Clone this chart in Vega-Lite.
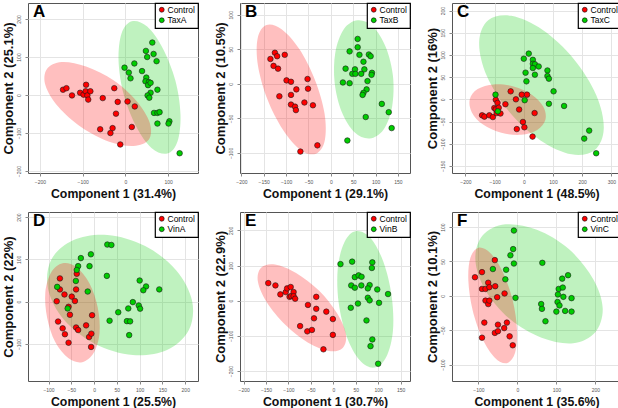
{
"$schema": "https://vega.github.io/schema/vega-lite/v6.json",
"padding": {"left": 1, "top": 1, "right": 0, "bottom": 0},
"background": "white",
"columns": 3,
"bounds": "flush",
"spacing": {"row": 39, "column": 42},
"resolve": {"scale": {"color": "independent", "x": "independent", "y": "independent"}, "legend": {"color": "independent"}},
"datasets": {
"A_pts": [
{"group":"Control","x":-146,"y":14},{"group":"Control","x":-138,"y":18},{"group":"Control","x":-125,"y":-1},{"group":"Control","x":-106,"y":6},{"group":"Control","x":-98,"y":1},{"group":"Control","x":-92,"y":27},{"group":"Control","x":-93,"y":10},{"group":"Control","x":-89,"y":-1},{"group":"Control","x":-87,"y":-12},{"group":"Control","x":-82,"y":10},{"group":"Control","x":-53,"y":-8},{"group":"Control","x":-26,"y":18},{"group":"Control","x":-18,"y":-18},{"group":"Control","x":-22,"y":-49},{"group":"Control","x":5,"y":-17},{"group":"Control","x":22,"y":-30},{"group":"Control","x":-59,"y":-90},{"group":"Control","x":-30,"y":-87},{"group":"Control","x":-35,"y":-100},{"group":"Control","x":15,"y":-84},{"group":"Control","x":-12,"y":-130},
{"group":"TaxA","x":-2,"y":72},{"group":"TaxA","x":8,"y":59},{"group":"TaxA","x":12,"y":44},{"group":"TaxA","x":21,"y":83},{"group":"TaxA","x":39,"y":63},{"group":"TaxA","x":48,"y":116},{"group":"TaxA","x":51,"y":100},{"group":"TaxA","x":63,"y":138},{"group":"TaxA","x":66,"y":108},{"group":"TaxA","x":73,"y":89},{"group":"TaxA","x":49,"y":46},{"group":"TaxA","x":47,"y":36},{"group":"TaxA","x":55,"y":34},{"group":"TaxA","x":53,"y":26},{"group":"TaxA","x":59,"y":32},{"group":"TaxA","x":75,"y":14},{"group":"TaxA","x":59,"y":6},{"group":"TaxA","x":52,"y":-1},{"group":"TaxA","x":56,"y":-7},{"group":"TaxA","x":67,"y":-47},{"group":"TaxA","x":75,"y":-47},{"group":"TaxA","x":80,"y":-45},{"group":"TaxA","x":75,"y":-75},{"group":"TaxA","x":103,"y":-69},{"group":"TaxA","x":101,"y":-75},{"group":"TaxA","x":127,"y":-153}
],
"A_ell": [
{"group":"Control","t":0,"x":55,"y":-117},{"group":"Control","t":1,"x":19,"y":-134},{"group":"Control","t":2,"x":-38,"y":-123},{"group":"Control","t":3,"x":-103,"y":-85},{"group":"Control","t":4,"x":-157,"y":-31},{"group":"Control","t":5,"x":-187,"y":25},{"group":"Control","t":6,"x":-184,"y":68},{"group":"Control","t":7,"x":-149,"y":87},{"group":"Control","t":8,"x":-92,"y":75},{"group":"Control","t":9,"x":-27,"y":38},{"group":"Control","t":10,"x":27,"y":-17},{"group":"Control","t":11,"x":57,"y":-73},
{"group":"TaxA","t":0,"x":98,"y":-154},{"group":"TaxA","t":1,"x":61,"y":-139},{"group":"TaxA","t":2,"x":25,"y":-82},{"group":"TaxA","t":3,"x":-4,"y":2},{"group":"TaxA","t":4,"x":-16,"y":91},{"group":"TaxA","t":5,"x":-9,"y":162},{"group":"TaxA","t":6,"x":15,"y":194},{"group":"TaxA","t":7,"x":51,"y":180},{"group":"TaxA","t":8,"x":88,"y":122},{"group":"TaxA","t":9,"x":117,"y":38},{"group":"TaxA","t":10,"x":129,"y":-51},{"group":"TaxA","t":11,"x":122,"y":-122}
],
"B_pts": [
{"group":"Control","x":-135,"y":36},{"group":"Control","x":-125,"y":45},{"group":"Control","x":-120,"y":40},{"group":"Control","x":-128,"y":26},{"group":"Control","x":-118,"y":22},{"group":"Control","x":-103,"y":42},{"group":"Control","x":-99,"y":5},{"group":"Control","x":-89,"y":3},{"group":"Control","x":-89,"y":-16},{"group":"Control","x":-77,"y":-8},{"group":"Control","x":-52,"y":7},{"group":"Control","x":-51,"y":-7},{"group":"Control","x":-115,"y":-18},{"group":"Control","x":-89,"y":-30},{"group":"Control","x":-80,"y":-33},{"group":"Control","x":-78,"y":-38},{"group":"Control","x":-59,"y":-27},{"group":"Control","x":-40,"y":-31},{"group":"Control","x":-30,"y":-89},{"group":"Control","x":-68,"y":-98},
{"group":"TaxB","x":60,"y":65},{"group":"TaxB","x":60,"y":53},{"group":"TaxB","x":42,"y":47},{"group":"TaxB","x":64,"y":42},{"group":"TaxB","x":85,"y":42.5},{"group":"TaxB","x":89,"y":40},{"group":"TaxB","x":73,"y":32},{"group":"TaxB","x":33,"y":22},{"group":"TaxB","x":54,"y":21},{"group":"TaxB","x":48,"y":14.5},{"group":"TaxB","x":55,"y":14.5},{"group":"TaxB","x":68,"y":14.5},{"group":"TaxB","x":75,"y":21},{"group":"TaxB","x":92,"y":16},{"group":"TaxB","x":91,"y":13},{"group":"TaxB","x":82,"y":4},{"group":"TaxB","x":27,"y":2},{"group":"TaxB","x":42,"y":1},{"group":"TaxB","x":80,"y":-8},{"group":"TaxB","x":73,"y":-13},{"group":"TaxB","x":71,"y":-16},{"group":"TaxB","x":114,"y":-29},{"group":"TaxB","x":129.5,"y":-41},{"group":"TaxB","x":78,"y":-48},{"group":"TaxB","x":136,"y":-64},{"group":"TaxB","x":37,"y":-82}
],
"B_ell": [
{"group":"Control","t":0,"x":-33,"y":-101},{"group":"Control","t":1,"x":-67,"y":-96},{"group":"Control","t":2,"x":-107,"y":-66.5},{"group":"Control","t":3,"x":-142,"y":-22},{"group":"Control","t":4,"x":-163,"y":27},{"group":"Control","t":5,"x":-163.5,"y":66},{"group":"Control","t":6,"x":-144,"y":85},{"group":"Control","t":7,"x":-110,"y":79},{"group":"Control","t":8,"x":-70,"y":50},{"group":"Control","t":9,"x":-35,"y":5},{"group":"Control","t":10,"x":-14,"y":-43},{"group":"Control","t":11,"x":-13.5,"y":-82},
{"group":"TaxB","t":0,"x":87,"y":-79},{"group":"TaxB","t":1,"x":53,"y":-70},{"group":"TaxB","t":2,"x":24,"y":-40},{"group":"TaxB","t":3,"x":8.5,"y":2},{"group":"TaxB","t":4,"x":10,"y":45},{"group":"TaxB","t":5,"x":29,"y":79},{"group":"TaxB","t":6,"x":60,"y":92},{"group":"TaxB","t":7,"x":94,"y":83},{"group":"TaxB","t":8,"x":123,"y":53},{"group":"TaxB","t":9,"x":139,"y":11},{"group":"TaxB","t":10,"x":137,"y":-33},{"group":"TaxB","t":11,"x":118,"y":-66}
],
"C_pts": [
{"group":"Control","x":-143,"y":-36},{"group":"Control","x":-135,"y":-39},{"group":"Control","x":-118,"y":-36},{"group":"Control","x":-106,"y":-40},{"group":"Control","x":-101,"y":-19.5},{"group":"Control","x":-96,"y":-22.5},{"group":"Control","x":-93,"y":-31},{"group":"Control","x":-96,"y":-1},{"group":"Control","x":-90,"y":-8},{"group":"Control","x":-86,"y":-19},{"group":"Control","x":-80,"y":-32},{"group":"Control","x":-63,"y":-11},{"group":"Control","x":-45,"y":18},{"group":"Control","x":-27,"y":0},{"group":"Control","x":-16,"y":-23},{"group":"Control","x":-7,"y":10.5},{"group":"Control","x":11,"y":10.5},{"group":"Control","x":-3,"y":-51},{"group":"Control","x":2,"y":-63},{"group":"Control","x":-24,"y":-67},{"group":"Control","x":37,"y":-31},{"group":"Control","x":30,"y":-84},
{"group":"TaxC","x":17,"y":103},{"group":"TaxC","x":0,"y":91.5},{"group":"TaxC","x":31,"y":89},{"group":"TaxC","x":31,"y":80},{"group":"TaxC","x":38,"y":79},{"group":"TaxC","x":51,"y":74},{"group":"TaxC","x":31,"y":70.5},{"group":"TaxC","x":6,"y":60},{"group":"TaxC","x":38,"y":55.5},{"group":"TaxC","x":81,"y":65},{"group":"TaxC","x":81,"y":52.5},{"group":"TaxC","x":86,"y":46.5},{"group":"TaxC","x":9,"y":40.5},{"group":"TaxC","x":102,"y":18},{"group":"TaxC","x":86,"y":-10},{"group":"TaxC","x":138,"y":-15},{"group":"TaxC","x":3,"y":-2},{"group":"TaxC","x":-97,"y":10.5},{"group":"TaxC","x":-89,"y":-27},{"group":"TaxC","x":207,"y":-88.5},{"group":"TaxC","x":224,"y":-70.5},{"group":"TaxC","x":248,"y":-121.5}
],
"C_ell": [
{"group":"Control","t":0,"x":74,"y":-46},{"group":"Control","t":1,"x":46,"y":-69},{"group":"Control","t":2,"x":-9,"y":-80},{"group":"Control","t":3,"x":-77,"y":-75.5},{"group":"Control","t":4,"x":-139.5,"y":-57},{"group":"Control","t":5,"x":-178,"y":-29.5},{"group":"Control","t":6,"x":-185,"y":0},{"group":"Control","t":7,"x":-158,"y":23},{"group":"Control","t":8,"x":-103,"y":33.5},{"group":"Control","t":9,"x":-35,"y":29},{"group":"Control","t":10,"x":27.5,"y":10.5},{"group":"Control","t":11,"x":67,"y":-17},
{"group":"TaxC","t":0,"x":243,"y":-114},{"group":"TaxC","t":1,"x":164,"y":-124},{"group":"TaxC","t":2,"x":56,"y":-92},{"group":"TaxC","t":3,"x":-50,"y":-28},{"group":"TaxC","t":4,"x":-127,"y":53},{"group":"TaxC","t":5,"x":-153,"y":128},{"group":"TaxC","t":6,"x":-122,"y":178},{"group":"TaxC","t":7,"x":-42.5,"y":188},{"group":"TaxC","t":8,"x":65,"y":156},{"group":"TaxC","t":9,"x":171,"y":91},{"group":"TaxC","t":10,"x":248,"y":10},{"group":"TaxC","t":11,"x":274,"y":-65}
],
"D_pts": [
{"group":"Control","x":-75,"y":55},{"group":"Control","x":-75,"y":29},{"group":"Control","x":-65,"y":17},{"group":"Control","x":-82,"y":1},{"group":"Control","x":-49,"y":12},{"group":"Control","x":-39.5,"y":29},{"group":"Control","x":-38,"y":66},{"group":"Control","x":-42,"y":1.6},{"group":"Control","x":-56,"y":-12},{"group":"Control","x":-53,"y":-31},{"group":"Control","x":-79,"y":-47},{"group":"Control","x":-69,"y":-63},{"group":"Control","x":-64,"y":-77},{"group":"Control","x":-56,"y":-97},{"group":"Control","x":-39.5,"y":-61},{"group":"Control","x":-35,"y":-67},{"group":"Control","x":-17.5,"y":-56},{"group":"Control","x":-4.4,"y":-32},{"group":"Control","x":-11,"y":-83.5},{"group":"Control","x":-6,"y":-75.6},{"group":"Control","x":-6.6,"y":-107},
{"group":"VinA","x":29,"y":135},{"group":"VinA","x":38,"y":134},{"group":"VinA","x":-29,"y":103},{"group":"VinA","x":-7,"y":112},{"group":"VinA","x":-35,"y":84},{"group":"VinA","x":-10,"y":84},{"group":"VinA","x":-38,"y":75},{"group":"VinA","x":28,"y":61},{"group":"VinA","x":-40,"y":49},{"group":"VinA","x":-81,"y":35},{"group":"VinA","x":-14,"y":24},{"group":"VinA","x":-58,"y":-16},{"group":"VinA","x":100,"y":50},{"group":"VinA","x":114,"y":36},{"group":"VinA","x":108,"y":27},{"group":"VinA","x":143,"y":29},{"group":"VinA","x":85,"y":-1},{"group":"VinA","x":98,"y":-9},{"group":"VinA","x":101,"y":-16.5},{"group":"VinA","x":53,"y":-25},{"group":"VinA","x":75,"y":-16},{"group":"VinA","x":34,"y":-45},{"group":"VinA","x":72,"y":-46},{"group":"VinA","x":79,"y":-46.5},{"group":"VinA","x":77,"y":-79}
],
"D_ell": [
{"group":"Control","t":0,"x":-26,"y":-143},{"group":"Control","t":1,"x":-56,"y":-134},{"group":"Control","t":2,"x":-85.5,"y":-95},{"group":"Control","t":3,"x":-103,"y":-38},{"group":"Control","t":4,"x":-107,"y":22},{"group":"Control","t":5,"x":-94,"y":69.5},{"group":"Control","t":6,"x":-69,"y":91},{"group":"Control","t":7,"x":-39,"y":82},{"group":"Control","t":8,"x":-10,"y":43},{"group":"Control","t":9,"x":8,"y":-14},{"group":"Control","t":10,"x":12,"y":-74},{"group":"Control","t":11,"x":-1,"y":-121.5},
{"group":"VinA","t":0,"x":208,"y":-67},{"group":"VinA","t":1,"x":160,"y":-114},{"group":"VinA","t":2,"x":85,"y":-126},{"group":"VinA","t":3,"x":2,"y":-100},{"group":"VinA","t":4,"x":-66,"y":-43},{"group":"VinA","t":5,"x":-101,"y":30},{"group":"VinA","t":6,"x":-94,"y":99},{"group":"VinA","t":7,"x":-46,"y":145},{"group":"VinA","t":8,"x":29,"y":157.5},{"group":"VinA","t":9,"x":112,"y":131.5},{"group":"VinA","t":10,"x":180,"y":74.5},{"group":"VinA","t":11,"x":215,"y":2}
],
"E_pts": [
{"group":"Control","x":-145,"y":50},{"group":"Control","x":-129,"y":43.5},{"group":"Control","x":-118,"y":18},{"group":"Control","x":-106,"y":24.6},{"group":"Control","x":-103,"y":35},{"group":"Control","x":-95,"y":39},{"group":"Control","x":-97.5,"y":11},{"group":"Control","x":-94,"y":13},{"group":"Control","x":-88.5,"y":24.6},{"group":"Control","x":-88.5,"y":13},{"group":"Control","x":-85,"y":5.7},{"group":"Control","x":-38,"y":11},{"group":"Control","x":-56.5,"y":-12},{"group":"Control","x":-38,"y":-23},{"group":"Control","x":-15.6,"y":-31},{"group":"Control","x":-1,"y":-52},{"group":"Control","x":-43,"y":-50},{"group":"Control","x":-74,"y":-72},{"group":"Control","x":-58,"y":-87},{"group":"Control","x":-47.6,"y":-83},{"group":"Control","x":-1,"y":-97},{"group":"Control","x":-22,"y":-138},
{"group":"VinB","x":42,"y":111},{"group":"VinB","x":16,"y":104},{"group":"VinB","x":87,"y":109},{"group":"VinB","x":86,"y":93},{"group":"VinB","x":48,"y":67},{"group":"VinB","x":56.5,"y":72},{"group":"VinB","x":63,"y":68},{"group":"VinB","x":40,"y":43.5},{"group":"VinB","x":48,"y":37},{"group":"VinB","x":62.5,"y":43.5},{"group":"VinB","x":81,"y":44.4},{"group":"VinB","x":77,"y":35},{"group":"VinB","x":98,"y":32},{"group":"VinB","x":122,"y":19},{"group":"VinB","x":77,"y":8.5},{"group":"VinB","x":81,"y":1},{"group":"VinB","x":102,"y":-6},{"group":"VinB","x":55,"y":-8},{"group":"VinB","x":39,"y":-20},{"group":"VinB","x":74,"y":-56},{"group":"VinB","x":87,"y":-110},{"group":"VinB","x":83,"y":-129},{"group":"VinB","x":100,"y":-179}
],
"E_ell": [
{"group":"Control","t":0,"x":21,"y":-134},{"group":"Control","t":1,"x":-10,"y":-143},{"group":"Control","t":2,"x":-57,"y":-119},{"group":"Control","t":3,"x":-107,"y":-68.5},{"group":"Control","t":4,"x":-148,"y":-5},{"group":"Control","t":5,"x":-168,"y":54},{"group":"Control","t":6,"x":-161,"y":94},{"group":"Control","t":7,"x":-130,"y":103},{"group":"Control","t":8,"x":-83,"y":79},{"group":"Control","t":9,"x":-32,"y":29},{"group":"Control","t":10,"x":8,"y":-35},{"group":"Control","t":11,"x":28,"y":-94},
{"group":"VinB","t":0,"x":91,"y":-190},{"group":"VinB","t":1,"x":59,"y":-169},{"group":"VinB","t":2,"x":30,"y":-102},{"group":"VinB","t":3,"x":12,"y":-6},{"group":"VinB","t":4,"x":10,"y":92},{"group":"VinB","t":5,"x":25,"y":167},{"group":"VinB","t":6,"x":51,"y":198},{"group":"VinB","t":7,"x":84,"y":177},{"group":"VinB","t":8,"x":112,"y":109},{"group":"VinB","t":9,"x":130,"y":14},{"group":"VinB","t":10,"x":133,"y":-85},{"group":"VinB","t":11,"x":118,"y":-160}
],
"F_pts": [
{"group":"Control","x":-109,"y":27},{"group":"Control","x":-91,"y":34.5},{"group":"Control","x":-58,"y":52},{"group":"Control","x":-75,"y":19},{"group":"Control","x":-91,"y":10},{"group":"Control","x":-82,"y":10},{"group":"Control","x":-72,"y":12.6},{"group":"Control","x":-57,"y":14},{"group":"Control","x":-33,"y":3.4},{"group":"Control","x":-52,"y":-2},{"group":"Control","x":-82,"y":-7},{"group":"Control","x":-75,"y":-12},{"group":"Control","x":-72,"y":-7},{"group":"Control","x":-85,"y":-39},{"group":"Control","x":-50,"y":-42},{"group":"Control","x":-27,"y":-39},{"group":"Control","x":-34,"y":-47},{"group":"Control","x":-58,"y":-54},{"group":"Control","x":-50,"y":-51.5},{"group":"Control","x":-20,"y":-59},{"group":"Control","x":-91,"y":-61},{"group":"Control","x":-12,"y":-72},
{"group":"VinC","x":-9,"y":95},{"group":"VinC","x":-11,"y":68},{"group":"VinC","x":-18,"y":59},{"group":"VinC","x":-9,"y":47},{"group":"VinC","x":-63,"y":39},{"group":"VinC","x":-29,"y":38},{"group":"VinC","x":-31,"y":24},{"group":"VinC","x":-5,"y":-3},{"group":"VinC","x":64,"y":48},{"group":"VinC","x":106,"y":10},{"group":"VinC","x":115,"y":25},{"group":"VinC","x":130,"y":30},{"group":"VinC","x":116.5,"y":12},{"group":"VinC","x":104,"y":2},{"group":"VinC","x":118,"y":-1.5},{"group":"VinC","x":139,"y":-3.4},{"group":"VinC","x":103,"y":-9},{"group":"VinC","x":108,"y":-14},{"group":"VinC","x":61,"y":-12},{"group":"VinC","x":63,"y":-19},{"group":"VinC","x":100,"y":-23},{"group":"VinC","x":122.5,"y":-22},{"group":"VinC","x":139,"y":-23},{"group":"VinC","x":72,"y":-37}
],
"F_ell": [
{"group":"Control","t":0,"x":-27,"y":-98},{"group":"Control","t":1,"x":-58,"y":-90},{"group":"Control","t":2,"x":-90,"y":-62},{"group":"Control","t":3,"x":-115,"y":-21},{"group":"Control","t":4,"x":-126,"y":22},{"group":"Control","t":5,"x":-121,"y":55},{"group":"Control","t":6,"x":-100,"y":70},{"group":"Control","t":7,"x":-69,"y":62},{"group":"Control","t":8,"x":-37,"y":34},{"group":"Control","t":9,"x":-12,"y":-7},{"group":"Control","t":10,"x":-1,"y":-50},{"group":"Control","t":11,"x":-6,"y":-83},
{"group":"VinC","t":0,"x":200,"y":-53},{"group":"VinC","t":1,"x":143,"y":-69},{"group":"VinC","t":2,"x":62,"y":-61},{"group":"VinC","t":3,"x":-21,"y":-33},{"group":"VinC","t":4,"x":-83,"y":9},{"group":"VinC","t":5,"x":-108,"y":53},{"group":"VinC","t":6,"x":-89,"y":88},{"group":"VinC","t":7,"x":-31,"y":104},{"group":"VinC","t":8,"x":50,"y":96},{"group":"VinC","t":9,"x":132,"y":68},{"group":"VinC","t":10,"x":194,"y":25},{"group":"VinC","t":11,"x":219,"y":-18}
]
},
"concat": [
{"width": 170, "height": 170, "title": {"text": "A"},
 "encoding": {
  "x": {"field": "x", "type": "quantitative", "scale": {"domain": [-228, 170], "nice": false, "zero": false}, "axis": {"values": [-200,-100,0,100], "title": "Component 1 (31.4%)"}},
  "y": {"field": "y", "type": "quantitative", "scale": {"domain": [-205, 242], "nice": false, "zero": false}, "axis": {"values": [-200,-100,0,100,200], "title": "Component 2 (25.1%)"}}},
 "layer": [
  {"data": {"name": "A_ell"}, "transform": [{"filter": "datum.group != 'Control'"}], "mark": {"type": "line", "interpolate": "cardinal-closed", "fill": "#00cd00", "fillOpacity": 0.25, "strokeOpacity": 0}, "encoding": {"order": {"field": "t", "type": "quantitative"}}},
  {"data": {"name": "A_ell"}, "transform": [{"filter": "datum.group == 'Control'"}], "mark": {"type": "line", "interpolate": "cardinal-closed", "fill": "#ff0000", "fillOpacity": 0.25, "strokeOpacity": 0}, "encoding": {"order": {"field": "t", "type": "quantitative"}}},
  {"data": {"name": "A_pts"}, "mark": {"type": "point", "filled": true, "opacity": 1, "stroke": "#1a1a1a", "strokeWidth": 0.6, "size": 31}, "encoding": {"color": {"field": "group", "type": "nominal", "scale": {"domain": ["Control", "TaxA"], "range": ["#ff0000", "#00cd00"]}, "legend": {"title": null}}}}
 ]},
{"width": 170, "height": 170, "title": {"text": "B"},
 "encoding": {
  "x": {"field": "x", "type": "quantitative", "scale": {"domain": [-203, 177], "nice": false, "zero": false}, "axis": {"values": [-200,-150,-100,-50,0,50,100,150], "title": "Component 1 (29.1%)"}},
  "y": {"field": "y", "type": "quantitative", "scale": {"domain": [-129, 117], "nice": false, "zero": false}, "axis": {"values": [-100,-50,0,50,100], "title": "Component 2 (10.5%)"}}},
 "layer": [
  {"data": {"name": "B_ell"}, "transform": [{"filter": "datum.group != 'Control'"}], "mark": {"type": "line", "interpolate": "cardinal-closed", "fill": "#00cd00", "fillOpacity": 0.25, "strokeOpacity": 0}, "encoding": {"order": {"field": "t", "type": "quantitative"}}},
  {"data": {"name": "B_ell"}, "transform": [{"filter": "datum.group == 'Control'"}], "mark": {"type": "line", "interpolate": "cardinal-closed", "fill": "#ff0000", "fillOpacity": 0.25, "strokeOpacity": 0}, "encoding": {"order": {"field": "t", "type": "quantitative"}}},
  {"data": {"name": "B_pts"}, "mark": {"type": "point", "filled": true, "opacity": 1, "stroke": "#1a1a1a", "strokeWidth": 0.6, "size": 31}, "encoding": {"color": {"field": "group", "type": "nominal", "scale": {"domain": ["Control", "TaxB"], "range": ["#ff0000", "#00cd00"]}, "legend": {"title": null}}}}
 ]},
{"width": 169, "height": 170, "title": {"text": "C"},
 "encoding": {
  "x": {"field": "x", "type": "quantitative", "scale": {"domain": [-246, 333], "nice": false, "zero": false}, "axis": {"values": [-200,-100,0,100,200,300], "title": "Component 1 (48.5%)"}},
  "y": {"field": "y", "type": "quantitative", "scale": {"domain": [-166, 217], "nice": false, "zero": false}, "axis": {"values": [-150,-100,-50,0,50,100,150,200], "title": "Component 2 (16%)"}}},
 "layer": [
  {"data": {"name": "C_ell"}, "transform": [{"filter": "datum.group != 'Control'"}], "mark": {"type": "line", "interpolate": "cardinal-closed", "fill": "#00cd00", "fillOpacity": 0.25, "strokeOpacity": 0}, "encoding": {"order": {"field": "t", "type": "quantitative"}}},
  {"data": {"name": "C_ell"}, "transform": [{"filter": "datum.group == 'Control'"}], "mark": {"type": "line", "interpolate": "cardinal-closed", "fill": "#ff0000", "fillOpacity": 0.25, "strokeOpacity": 0}, "encoding": {"order": {"field": "t", "type": "quantitative"}}},
  {"data": {"name": "C_pts"}, "mark": {"type": "point", "filled": true, "opacity": 1, "stroke": "#1a1a1a", "strokeWidth": 0.6, "size": 31}, "encoding": {"color": {"field": "group", "type": "nominal", "scale": {"domain": ["Control", "TaxC"], "range": ["#ff0000", "#00cd00"]}, "legend": {"title": null}}}}
 ]},
{"width": 170, "height": 169, "title": {"text": "D"},
 "encoding": {
  "x": {"field": "x", "type": "quantitative", "scale": {"domain": [-145, 228], "nice": false, "zero": false}, "axis": {"values": [-100,-50,0,50,100,150,200], "title": "Component 1 (25.5%)"}},
  "y": {"field": "y", "type": "quantitative", "scale": {"domain": [-187.5, 212], "nice": false, "zero": false}, "axis": {"values": [-100,0,100,200], "title": "Component 2 (22%)"}}},
 "layer": [
  {"data": {"name": "D_ell"}, "transform": [{"filter": "datum.group != 'Control'"}], "mark": {"type": "line", "interpolate": "cardinal-closed", "fill": "#00cd00", "fillOpacity": 0.25, "strokeOpacity": 0}, "encoding": {"order": {"field": "t", "type": "quantitative"}}},
  {"data": {"name": "D_ell"}, "transform": [{"filter": "datum.group == 'Control'"}], "mark": {"type": "line", "interpolate": "cardinal-closed", "fill": "#ff0000", "fillOpacity": 0.25, "strokeOpacity": 0}, "encoding": {"order": {"field": "t", "type": "quantitative"}}},
  {"data": {"name": "D_pts"}, "mark": {"type": "point", "filled": true, "opacity": 1, "stroke": "#1a1a1a", "strokeWidth": 0.6, "size": 31}, "encoding": {"color": {"field": "group", "type": "nominal", "scale": {"domain": ["Control", "VinA"], "range": ["#ff0000", "#00cd00"]}, "legend": {"title": null}}}}
 ]},
{"width": 170, "height": 169, "title": {"text": "E"},
 "encoding": {
  "x": {"field": "x", "type": "quantitative", "scale": {"domain": [-208, 171], "nice": false, "zero": false}, "axis": {"values": [-200,-150,-100,-50,0,50,100,150], "title": "Component 1 (30.7%)"}},
  "y": {"field": "y", "type": "quantitative", "scale": {"domain": [-228, 252], "nice": false, "zero": false}, "axis": {"values": [-200,-100,0,100,200], "title": "Component 2 (22.9%)"}}},
 "layer": [
  {"data": {"name": "E_ell"}, "transform": [{"filter": "datum.group != 'Control'"}], "mark": {"type": "line", "interpolate": "cardinal-closed", "fill": "#00cd00", "fillOpacity": 0.25, "strokeOpacity": 0}, "encoding": {"order": {"field": "t", "type": "quantitative"}}},
  {"data": {"name": "E_ell"}, "transform": [{"filter": "datum.group == 'Control'"}], "mark": {"type": "line", "interpolate": "cardinal-closed", "fill": "#ff0000", "fillOpacity": 0.25, "strokeOpacity": 0}, "encoding": {"order": {"field": "t", "type": "quantitative"}}},
  {"data": {"name": "E_pts"}, "mark": {"type": "point", "filled": true, "opacity": 1, "stroke": "#1a1a1a", "strokeWidth": 0.6, "size": 31}, "encoding": {"color": {"field": "group", "type": "nominal", "scale": {"domain": ["Control", "VinB"], "range": ["#ff0000", "#00cd00"]}, "legend": {"title": null}}}}
 ]},
{"width": 169, "height": 169, "title": {"text": "F"},
 "encoding": {
  "x": {"field": "x", "type": "quantitative", "scale": {"domain": [-168, 266], "nice": false, "zero": false}, "axis": {"values": [-100,0,100,200], "title": "Component 1 (35.6%)"}},
  "y": {"field": "y", "type": "quantitative", "scale": {"domain": [-124, 122], "nice": false, "zero": false}, "axis": {"values": [-100,-50,0,50,100], "title": "Component 2 (10.1%)"}}},
 "layer": [
  {"data": {"name": "F_ell"}, "transform": [{"filter": "datum.group != 'Control'"}], "mark": {"type": "line", "interpolate": "cardinal-closed", "fill": "#00cd00", "fillOpacity": 0.25, "strokeOpacity": 0}, "encoding": {"order": {"field": "t", "type": "quantitative"}}},
  {"data": {"name": "F_ell"}, "transform": [{"filter": "datum.group == 'Control'"}], "mark": {"type": "line", "interpolate": "cardinal-closed", "fill": "#ff0000", "fillOpacity": 0.25, "strokeOpacity": 0}, "encoding": {"order": {"field": "t", "type": "quantitative"}}},
  {"data": {"name": "F_pts"}, "mark": {"type": "point", "filled": true, "opacity": 1, "stroke": "#1a1a1a", "strokeWidth": 0.6, "size": 31}, "encoding": {"color": {"field": "group", "type": "nominal", "scale": {"domain": ["Control", "VinC"], "range": ["#ff0000", "#00cd00"]}, "legend": {"title": null}}}}
 ]}
],
"config": {
 "font": "Liberation Sans",
 "view": {"stroke": "#555555", "strokeWidth": 1},
 "axis": {"domain": false, "gridColor": "#e4e4e4", "gridWidth": 1, "tickColor": "#888888", "tickSize": 3, "labelFontSize": 5, "labelColor": "#555555", "titleFontWeight": "bold", "titleColor": "#111111", "labelFlush": false, "labelOverlap": false},
 "axisX": {"labelPadding": 3, "titlePadding": 3, "titleFontSize": 12.3},
 "axisY": {"labelAngle": -90, "labelPadding": 4, "titlePadding": 1, "titleFontSize": 13},
 "legend": {"orient": "top-right", "offset": 0, "padding": 2.5, "strokeColor": "#000000", "strokeWidth": 1.2, "fillColor": "#ffffff", "labelFontSize": 8.5, "labelColor": "#000000", "symbolType": "circle", "symbolSize": 24, "symbolStrokeColor": "#000000", "symbolStrokeWidth": 0.6, "rowPadding": 1.5, "labelOffset": 1.5},
 "title": {"anchor": "start", "frame": "group", "orient": "top", "offset": -19, "baseline": "alphabetic", "fontSize": 17, "fontWeight": "bold", "color": "#000000", "dx": 5}
}
}
